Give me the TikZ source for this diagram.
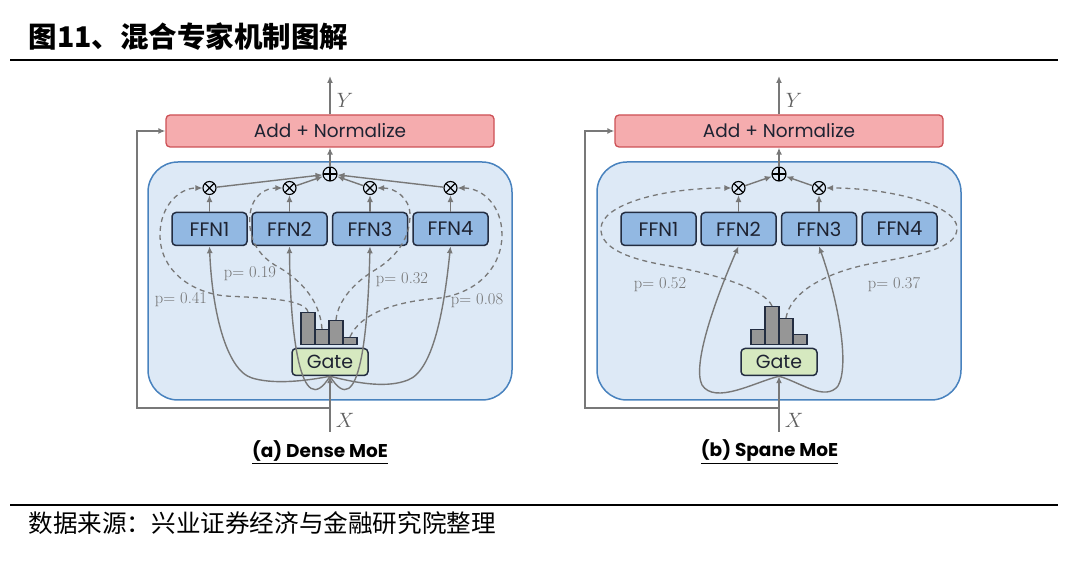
\documentclass[tikz,border=0pt]{standalone}
\usepackage{fontspec}
\newfontfamily\geo{Poppins}
\newfontfamily\cjk{Noto Sans CJK SC}
\usetikzlibrary{arrows.meta}
\definecolor{addfill}{RGB}{245,172,174}
\definecolor{adddraw}{RGB}{205,80,85}
\definecolor{moefill}{RGB}{221,233,246}
\definecolor{moedraw}{RGB}{72,130,190}
\definecolor{ffnfill}{RGB}{146,184,226}
\definecolor{ffndraw}{RGB}{35,45,65}
\definecolor{gatefill}{RGB}{214,233,192}
\definecolor{linegray}{RGB}{120,120,120}
\definecolor{labelgray}{RGB}{115,115,115}
\definecolor{bargray}{RGB}{150,150,150}
\definecolor{textdark}{RGB}{30,35,50}

\begin{document}
\begin{tikzpicture}[x=1pt,y=-1pt,
  addbox/.style={draw=adddraw, fill=addfill, line width=1.3pt, rounded corners=4pt, minimum width=328pt, minimum height=32pt, inner sep=0pt, text=textdark, font=\geo\fontsize{18.5}{20}\selectfont},
  moebox/.style={draw=moedraw, fill=moefill, line width=1.5pt, rounded corners=30pt, minimum width=364pt, minimum height=238pt},
  ffnbox/.style={draw=ffndraw, fill=ffnfill, line width=1.5pt, rounded corners=4pt, minimum width=75pt, minimum height=33pt, inner sep=0pt, text=textdark, font=\geo\fontsize{19.5}{20}\selectfont},
  gatebox/.style={draw=ffndraw, fill=gatefill, line width=1.5pt, rounded corners=4pt, minimum width=76pt, minimum height=27pt, inner sep=0pt, text=textdark, font=\geo\fontsize{19}{20}\selectfont},
  barbox/.style={draw=ffndraw, fill=bargray, line width=1.1pt, minimum width=14pt, inner sep=0pt, anchor=south},
  timesnode/.style={circle, draw=black, line width=1.1pt, minimum size=13pt, inner sep=0pt,
    path picture={\draw[line width=1.1pt] (path picture bounding box.north west) -- (path picture bounding box.south east) (path picture bounding box.north east) -- (path picture bounding box.south west);}},
  plusnode/.style={circle, draw=black, line width=1.1pt, minimum size=14pt, inner sep=0pt,
    path picture={\draw[line width=1.1pt] (path picture bounding box.north) -- (path picture bounding box.south) (path picture bounding box.west) -- (path picture bounding box.east);}},
  flowline/.style={draw=linegray, line width=1.4pt, -{Latex[length=7pt,width=6pt]}},
  routeline/.style={draw=linegray, line width=1.3pt, dash pattern=on 5pt off 4pt, -{Latex[length=7pt,width=6pt]}},
  plabel/.style={text=labelgray, font=\fontsize{16.5}{18}\selectfont},
  varlabel/.style={text=linegray!80!black, font=\fontsize{20}{22}\selectfont},
  captext/.style={text=black, font=\geo\bfseries\fontsize{18.5}{20}\selectfont}
]
\useasboundingbox (0,0) rectangle (1080,561);

% title and source
\node[anchor=west, font=\cjk\bfseries\fontsize{28.5}{30}\selectfont] (title) at (25,37) {图11、混合专家机制图解};
\draw[line width=2pt] (10,60) -- (1058,60);
\draw[line width=2pt] (10,505) -- (1058,505);
\node[anchor=west, font=\cjk\fontsize{24.6}{28}\selectfont] (source) at (25,523) {数据来源：兴业证券经济与金融研究院整理};

% (a) dense
\node[moebox] (moeA) at (330,281) {};
\node[addbox] (addA) at (330,131) {Add + Normalize};
\node[ffnbox] (ffnA1) at (209.5,229) {FFN1};
\node[ffnbox] (ffnA2) at (289.5,229) {FFN2};
\node[ffnbox] (ffnA3) at (370,229) {FFN3};
\node[ffnbox] (ffnA4) at (450.5,229) {FFN4};
\node[timesnode] (mulA1) at (209.5,188) {};
\node[timesnode] (mulA2) at (289.5,188) {};
\node[timesnode] (mulA3) at (370,188) {};
\node[timesnode] (mulA4) at (450.5,188) {};
\node[plusnode] (sumA) at (330,174) {};
\node[gatebox] (gateA) at (330,362) {Gate};
\node[barbox, minimum height=32pt] (barA1) at (308,345) {};
\node[barbox, minimum height=15pt] (barA2) at (322,345) {};
\node[barbox, minimum height=24pt] (barA3) at (336,345) {};
\node[barbox, minimum height=7pt] (barA4) at (350,345) {};
\coordinate (yA) at (330,76);
\coordinate (xA) at (330,432);
\coordinate (forkA) at (330,408);
\coordinate (cornerA) at (137,408);
\node[varlabel] (ylabA) at (345,100) {$Y$};
\node[varlabel] (xlabA) at (345,420) {$X$};
\node[plabel] (pA1) at (181,300) {p= 0.41};
\node[plabel] (pA2) at (250,274) {p= 0.19};
\node[plabel] (pA3) at (402,280) {p= 0.32};
\node[plabel] (pA4) at (477,301) {p= 0.08};
\node[captext] (capA) at (320,452) {\underline{(a) Dense MoE}};

\begin{scope}[every edge/.style={flowline}]
  \path (ffnA1) edge (mulA1);
  \path (ffnA2) edge (mulA2);
  \path (ffnA3) edge (mulA3);
  \path (ffnA4) edge (mulA4);
  \path (mulA1) edge (sumA);
  \path (mulA2) edge (sumA);
  \path (mulA3) edge (sumA);
  \path (mulA4) edge (sumA);
  \path (sumA) edge (addA);
  \path (addA) edge (yA);
  \path (xA) edge (gateA);
\end{scope}
\draw[flowline] (forkA) -- (cornerA) |- (addA.west);
\draw[flowline] (gateA.south) .. controls (300,382) and (272,384) .. (252,378) .. controls (226,370) and (212,310) .. (ffnA1.south);
\draw[flowline] (gateA.south) .. controls (300,425) and (290,330) .. (ffnA2.south);
\draw[flowline] (gateA.south) .. controls (360,425) and (368,330) .. (ffnA3.south);
\draw[flowline] (gateA.south) .. controls (360,384) and (388,388) .. (408,380) .. controls (435,370) and (445,300) .. (ffnA4.south);
\draw[routeline] (barA1.north) .. controls (305,300) and (270,298) .. (225,296) .. controls (190,292) and (160,270) .. (160,235) .. controls (160,205) and (180,188) .. (mulA1.west);
\draw[routeline] (barA2.north) .. controls (320,300) and (300,280) .. (280,268) .. controls (255,255) and (248,235) .. (250,215) .. controls (252,195) and (266,188) .. (mulA2.west);
\draw[routeline] (barA3.north) .. controls (338,300) and (355,282) .. (375,270) .. controls (400,255) and (410,235) .. (410,215) .. controls (410,198) and (395,188) .. (mulA3.east);
\draw[routeline] (barA4.north) .. controls (360,315) and (390,302) .. (440,298) .. controls (480,292) and (502,265) .. (502,235) .. controls (502,205) and (482,188) .. (mulA4.east);

% (b) sparse
\node[moebox] (moeB) at (779,281) {};
\node[addbox] (addB) at (779,131) {Add + Normalize};
\node[ffnbox] (ffnB1) at (658.5,229) {FFN1};
\node[ffnbox] (ffnB2) at (738.5,229) {FFN2};
\node[ffnbox] (ffnB3) at (819,229) {FFN3};
\node[ffnbox] (ffnB4) at (899.5,229) {FFN4};
\node[timesnode] (mulB1) at (738.5,188) {};
\node[timesnode] (mulB2) at (819,188) {};
\node[plusnode] (sumB) at (779,174) {};
\node[gatebox] (gateB) at (779,362) {Gate};
\node[barbox, minimum height=15pt] (barB1) at (758,345) {};
\node[barbox, minimum height=38pt] (barB2) at (772,345) {};
\node[barbox, minimum height=26pt] (barB3) at (786,345) {};
\node[barbox, minimum height=10pt] (barB4) at (800,345) {};
\coordinate (yB) at (779,76);
\coordinate (xB) at (779,432);
\coordinate (forkB) at (779,408);
\coordinate (cornerB) at (585,408);
\node[varlabel] (ylabB) at (794,100) {$Y$};
\node[varlabel] (xlabB) at (794,420) {$X$};
\node[plabel] (pB1) at (660,285) {p= 0.52};
\node[plabel] (pB2) at (894,285) {p= 0.37};
\node[captext] (capB) at (769.5,452) {\underline{(b) Spane MoE}};

\begin{scope}[every edge/.style={flowline}]
  \path (ffnB2) edge (mulB1);
  \path (ffnB3) edge (mulB2);
  \path (mulB1) edge (sumB);
  \path (mulB2) edge (sumB);
  \path (sumB) edge (addB);
  \path (addB) edge (yB);
  \path (xB) edge (gateB);
\end{scope}
\draw[flowline] (forkB) -- (cornerB) |- (addB.west);
\draw[flowline] (gateB.south) .. controls (755,382) and (715,405) .. (702,385) .. controls (692,365) and (715,300) .. (ffnB2.south);
\draw[flowline] (gateB.south) .. controls (800,382) and (825,402) .. (838,386) .. controls (850,365) and (838,300) .. (ffnB3.south);
\draw[routeline] (barB2.north) .. controls (765,290) and (720,275) .. (670,266) .. controls (620,258) and (600,245) .. (601,228) .. controls (602,205) and (660,188) .. (mulB1.west);
\draw[routeline] (barB3.north) .. controls (790,295) and (820,272) .. (880,262) .. controls (935,252) and (957,245) .. (957,228) .. controls (957,205) and (890,188) .. (mulB2.east);
\end{tikzpicture}
\end{document}
